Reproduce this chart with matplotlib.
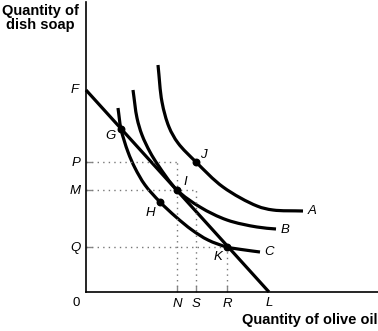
import numpy as np
import matplotlib.pyplot as plt
from matplotlib.path import Path
from matplotlib.patches import PathPatch

plt.rcParams['font.family'] = ['Liberation Sans', 'DejaVu Sans']

# indifference curves
a_x = [72, 76, 83, 92, 110, 137, 171, 187, 217]
a_y = [227, 190, 165, 149, 130, 105, 86, 82, 81]
b_x = [47, 51, 56, 64, 72, 91, 114, 141, 171, 190]
b_y = [202, 174, 157, 140, 127, 102, 85, 72, 65, 63]
c_x = [32, 35, 42, 49, 59, 74, 90, 106, 122, 141, 159, 174]
c_y = [184, 163, 140, 124, 107, 90, 75, 62, 52, 45, 42, 40]

# budget line F -> L
budget_x = [0, 183]
budget_y = [202, 0]

# points on the curves
pt_names = ['G', 'H', 'I', 'J', 'K']
pt_x = [35, 74, 91, 110, 141]
pt_y = [163, 90, 102, 130, 45]
pt_label_x = [24, 64, 99, 117, 132]
pt_label_y = [156, 79, 110, 137, 35]

# axis ticks
ytick_vals = [130, 102, 45]
ytick_names = ['P', 'M', 'Q']
xtick_vals = [91, 110, 141]
xtick_names = ['N', 'S', 'R']


def smooth_path(xs, ys, alpha=0.5):
    # centripetal catmull-rom through the read points, as bezier segments
    p = np.column_stack([xs, ys]).astype(float)
    p = np.vstack([2 * p[0] - p[1], p, 2 * p[-1] - p[-2]])
    verts = [p[1]]
    codes = [Path.MOVETO]
    for i in range(1, len(p) - 2):
        p0, p1, p2, p3 = p[i - 1], p[i], p[i + 1], p[i + 2]
        d1 = np.linalg.norm(p1 - p0) ** alpha
        d2 = np.linalg.norm(p2 - p1) ** alpha
        d3 = np.linalg.norm(p3 - p2) ** alpha
        m1 = d2 * ((p1 - p0) / d1 - (p2 - p0) / (d1 + d2) + (p2 - p1) / d2)
        m2 = d2 * ((p2 - p1) / d2 - (p3 - p1) / (d2 + d3) + (p3 - p2) / d3)
        verts += [p1 + m1 / 3, p2 - m2 / 3, p2]
        codes += [Path.CURVE4] * 3
    return Path(verts, codes)


fig = plt.figure(figsize=(3.78, 3.31), dpi=100)
ax = fig.add_axes([86/378, 39/331, 292/378, 290/331])
ax.set_xlim(0, 292)
ax.set_ylim(0, 290)

lw = 2.3
for xs, ys in [(a_x, a_y), (b_x, b_y), (c_x, c_y)]:
    ax.add_patch(PathPatch(smooth_path(xs, ys), fill=False, lw=lw, edgecolor='black', capstyle='butt'))
ax.plot(budget_x, budget_y, color='black', lw=lw, solid_capstyle='butt', clip_on=False)

# dotted guides
dot = (0, (1, 3))
for yv, xv in zip(ytick_vals, xtick_vals):
    ax.plot([0, xv], [yv, yv], color='#777777', lw=1, ls=dot)
    ax.plot([xv, xv], [0, yv], color='#777777', lw=1, ls=dot)

ax.scatter(pt_x, pt_y, s=22, color='black', zorder=5)
fs = 9.5
for n, lx, ly in zip(pt_names, pt_label_x, pt_label_y):
    ax.text(lx, ly, n, fontsize=fs, style='italic', ha='center', va='center')

# curve labels
ax.text(226, 81, 'A', fontsize=fs, style='italic', ha='center', va='center')
ax.text(199, 62, 'B', fontsize=fs, style='italic', ha='center', va='center')
ax.text(183, 40, 'C', fontsize=fs, style='italic', ha='center', va='center')
ax.text(-11, 202, 'F', fontsize=fs, style='italic', ha='center', va='center')
ax.text(183, -11, 'L', fontsize=fs, style='italic', ha='center', va='center')
ax.text(-10, -11, '0', fontsize=fs, ha='center', va='center')

ax.set_yticks(ytick_vals)
ax.set_yticklabels(ytick_names, style='italic', fontsize=fs)
ax.set_xticks(xtick_vals)
ax.set_xticklabels(xtick_names, style='italic', fontsize=fs)
ax.tick_params(direction='in', length=4, width=1, color='#888888', pad=4)

for s in ['top', 'right']:
    ax.spines[s].set_visible(False)
for s in ['left', 'bottom']:
    ax.spines[s].set_linewidth(1.2)

fig.text(40/378, 1 - 18/331, 'Quantity of\ndish soap', fontsize=10.5, fontweight='bold',
         ha='center', va='center', multialignment='center', linespacing=1.05)
fig.text(377/378, 1 - 320/331, 'Quantity of olive oil', fontsize=10.5, fontweight='bold',
         ha='right', va='center')

fig.savefig('out.png', dpi=100)
